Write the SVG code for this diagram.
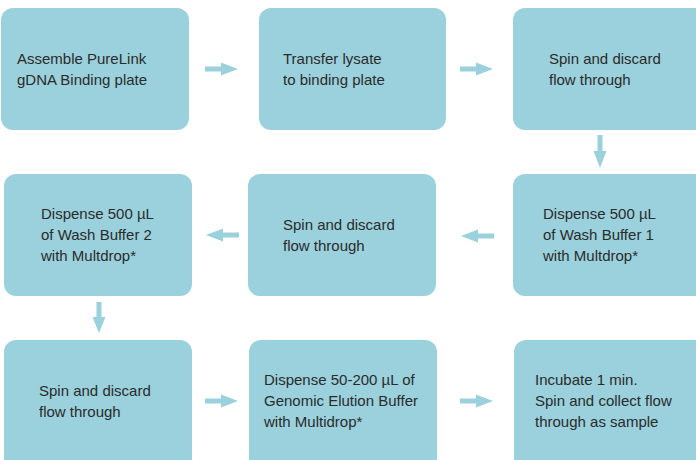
<svg xmlns="http://www.w3.org/2000/svg" width="696" height="460" viewBox="0 0 696 460">
<style>
.box{fill:#9AD1DC}
.t{font-family:"Liberation Sans",Arial,sans-serif;font-size:15px;fill:#2b2b2b}
.arr{fill:#9AD1DC}
</style>
<defs>
<path id="ar" d="M0,-2.7 H16 V-6.5 H33 V0 Z M0,2.7 H16 V6.5 H33 V0 Z"/>
</defs>
<rect width="696" height="460" fill="#fff"/>
<g id="n1"><rect class="box" x="1" y="8" width="188" height="122" rx="12"/>
<text class="t" x="17" y="64">Assemble PureLink</text><text class="t" x="17" y="85">gDNA Binding plate</text></g>
<g id="n2"><rect class="box" x="259" y="8" width="187" height="122" rx="12"/>
<text class="t" x="283" y="64">Transfer lysate</text><text class="t" x="283" y="85">to binding plate</text></g>
<g id="n3"><rect class="box" x="513" y="8" width="200" height="122" rx="12"/>
<text class="t" x="549" y="64">Spin and discard</text><text class="t" x="549" y="85">flow through</text></g>
<g id="n4"><rect class="box" x="4" y="174" width="188" height="122" rx="12"/>
<text class="t" x="41" y="219">Dispense 500 µL</text><text class="t" x="41" y="240">of Wash Buffer 2</text><text class="t" x="41" y="261">with Multdrop*</text></g>
<g id="n5"><rect class="box" x="248" y="174" width="188" height="122" rx="12"/>
<text class="t" x="283" y="230">Spin and discard</text><text class="t" x="283" y="251">flow through</text></g>
<g id="n6"><rect class="box" x="513" y="174" width="200" height="122" rx="12"/>
<text class="t" x="543" y="219">Dispense 500 µL</text><text class="t" x="543" y="240">of Wash Buffer 1</text><text class="t" x="543" y="261">with Multdrop*</text></g>
<g id="n7"><rect class="box" x="4" y="340" width="188" height="140" rx="12"/>
<text class="t" x="39" y="396">Spin and discard</text><text class="t" x="39" y="417">flow through</text></g>
<g id="n8"><rect class="box" x="249" y="340" width="188" height="140" rx="12"/>
<text class="t" x="264" y="385">Dispense 50-200 µL of</text><text class="t" x="264" y="406">Genomic Elution Buffer</text><text class="t" x="264" y="427">with Multidrop*</text></g>
<g id="n9"><rect class="box" x="514" y="340" width="200" height="140" rx="12"/>
<text class="t" x="535" y="385">Incubate 1 min.</text><text class="t" x="535" y="406">Spin and collect flow</text><text class="t" x="535" y="427">through as sample</text></g>
<g id="connectors" class="arr">
<path d="M205,66.5 H221 V62.5 L238,69 L221,75.5 V71.5 H205 Z"/>
<path d="M460,66.5 H476 V62.5 L493,69 L476,75.5 V71.5 H460 Z"/>
<path d="M597.5,135 V151 H593.5 L600,168 L606.5,151 H602.5 V135 Z"/>
<path d="M494,233.5 H478 V229.5 L461,236 L478,242.5 V238.5 H494 Z"/>
<path d="M239,232.5 H223 V228.5 L206,235 L223,241.5 V237.5 H239 Z"/>
<path d="M96.5,302 V317 H92.5 L99,333 L105.5,317 H101.5 V302 Z"/>
<path d="M205,398.5 H221 V394.5 L238,401 L221,407.5 V403.5 H205 Z"/>
<path d="M460,398.5 H476 V394.5 L493,401 L476,407.5 V403.5 H460 Z"/>
</g>
</svg>
